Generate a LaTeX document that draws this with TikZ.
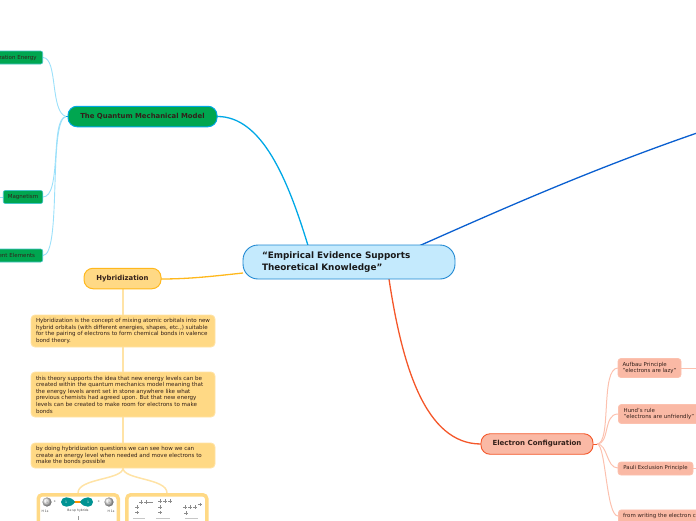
\documentclass[tikz,border=0pt]{standalone}
\usepackage{fontspec}
\setmainfont{DejaVu Sans}
\definecolor{txt}{HTML}{33201A}
\definecolor{mainfill}{HTML}{C4EAFD}
\definecolor{mainedge}{HTML}{1F88D2}
\definecolor{qmfill}{HTML}{00A650}
\definecolor{qmedge}{HTML}{00A8E6}
\definecolor{leafedge}{HTML}{45C4C8}
\definecolor{leafline}{HTML}{9BE0FA}
\definecolor{hyfill}{HTML}{FFD985}
\definecolor{hyedge}{HTML}{FFB81C}
\definecolor{hyline}{HTML}{FFE3A6}
\definecolor{ecfill}{HTML}{FAB9A5}
\definecolor{ecedge}{HTML}{F4572A}
\definecolor{ecline}{HTML}{FCC1AF}
\definecolor{bluelink}{HTML}{0A5FD0}
\tikzset{
  box/.style={draw,inner sep=0pt,font=\fontsize{5.5}{6.6}\selectfont,text=txt},
  mainbox/.style={box,fill=mainfill,draw=mainedge,line width=.9pt,rounded corners=15pt,font=\bfseries\fontsize{8.85}{12}\selectfont,text=black!90},
  qmbox/.style={box,fill=qmfill,draw=qmedge,line width=1pt,rounded corners=9pt,font=\bfseries\fontsize{6.9}{8}\selectfont},
  leafbox/.style={box,fill=qmfill,draw=leafedge,line width=.6pt,rounded corners=2pt,font=\fontsize{5.5}{6.6}\selectfont},
  hybox/.style={box,fill=hyfill,draw=hyedge,line width=1pt,rounded corners=9pt,font=\bfseries\fontsize{6.9}{8}\selectfont},
  notebox/.style={box,fill=hyfill,draw=hyline,line width=.9pt,rounded corners=4pt,align=left},
  ecbox/.style={box,fill=ecfill,draw=ecedge,line width=.9pt,rounded corners=9pt,font=\bfseries\fontsize{7}{8}\selectfont},
  leafec/.style={box,fill=ecfill,draw=ecline,line width=.8pt,rounded corners=3pt,align=left,font=\fontsize{5.35}{6.6}\selectfont},
  picframe/.style={draw=hyfill,fill=white,line width=3.5pt,rounded corners=4pt},
  linkq/.style={draw=leafline,line width=.9pt},
  linky/.style={draw=hyline,line width=1.5pt},
  linke/.style={draw=ecline,line width=1pt},
  tiny/.style={inner sep=0pt,font=\fontsize{3.1}{3.6}\selectfont,text=black!75},
  lvl/.style={draw=black!45,line width=.35pt},
  capline/.style={draw=black!22,line width=.9pt},
}
\begin{document}
\begin{tikzpicture}[x=1pt,y=-1pt]
\useasboundingbox (0,0) rectangle (696,520);
\clip (0,0) rectangle (696,520);
% named connector ends
\coordinate (qmin) at (308,245.5);
\coordinate (blue1) at (420,245.5);
\coordinate (blue2) at (697,133);
\coordinate (ecin) at (389,279);
\coordinate (hyin) at (243,273);
\coordinate (qmhub) at (66,116.5);
\coordinate (echub) at (597,444);
\coordinate (ion) at (43,57.5);
\coordinate (mag) at (43,197);
\coordinate (val) at (43,255.5);
\coordinate (magL) at (0,197);
\coordinate (auR) at (697,368);
\coordinate (paR) at (697,468);
\coordinate (fwL) at (618,516);
% connectors
\draw[qmedge,line width=1.3pt] (217,116.5) .. controls (262,116) and (288,180) .. (qmin);
\draw[bluelink,line width=1.3pt] (blue1) .. controls (500,210) and (590,170) .. (blue2);
\draw[ecedge,line width=1.3pt] (ecin) .. controls (402,365) and (425,444) .. (481,444);
\draw[hyedge,line width=1.3pt] (161,279) .. controls (190,279) and (215,276) .. (hyin);
\draw[linkq] (qmhub) .. controls (50,112) and (58,58) .. (ion);
\draw[linkq] (qmhub) .. controls (50,118) and (62,197) .. (mag);
\draw[linkq] (qmhub) .. controls (48,120) and (62,255) .. (val);
\draw[linkq] (magL) -- (3,197);
\draw[linky] (123,289) -- (123,315);
\draw[linky] (123,347) -- (123,372);
\draw[linky] (123,417) -- (123,443);
\draw[linky] (123,468) .. controls (123,480) and (78,478) .. (78,493);
\draw[linky] (123,468) .. controls (123,480) and (167,478) .. (167,493);
\draw[linke] (echub) .. controls (612,444) and (600,368) .. (618,368);
\draw[linke] (echub) .. controls (610,444) and (603,414) .. (618,414);
\draw[linke] (echub) .. controls (608,444) and (606,468) .. (618,468);
\draw[linke] (echub) .. controls (606,444) and (606,516) .. (fwL);
\draw[linke] (681,368) -- (auR);
\draw[linke] (693,468) -- (paR);
\draw[ecedge,line width=.9pt] (593,444) -- (echub);
\draw[qmedge,line width=.9pt] (68,116.5) -- (qmhub);
% main node
\node[mainbox,minimum width=212pt,minimum height=34pt] (main) at (349,262) {\hspace{-1pt}\parbox{173pt}{“Empirical Evidence Supports\\Theoretical Knowledge”}};
\node[qmbox,minimum width=149pt,minimum height=20.5pt] (qm) at (142.5,116.5) {The Quantum Mechanical Model};
\node[leafbox,minimum width=60pt,minimum height=13pt,anchor=east] (ionn) at (43,57.5) {Ionization Energy\hspace{4.5pt}};
\node[leafbox,minimum width=39.5pt,minimum height=13pt] (magn) at (23,197) {Magnetism};
\node[leafbox,minimum width=60pt,minimum height=13pt,anchor=east] (valn) at (43,255.5) {Valent Elements\hspace{4.5pt}};
\node[hybox,minimum width=77pt,minimum height=20.5pt] (hy) at (122.5,278.5) {Hybridization};
\node[notebox,minimum width=184pt,minimum height=32pt] (n1) at (123,331) {\parbox{174pt}{\fontsize{5.55}{6.6}\selectfont Hybridization is the concept of mixing atomic orbitals into new\\hybrid orbitals (with different energies, shapes, etc.,) suitable\\for the pairing of electrons to form chemical bonds in valence\\bond theory.}};
\node[notebox,minimum width=184pt,minimum height=45pt] (n2) at (123,394.5) {\parbox{174pt}{\fontsize{5.55}{6.6}\selectfont this theory supports the idea that new energy levels can be\\created within the quantum mechanics model meaning that\\the energy levels arent set in stone anywhere like what\\previous chemists had agreed upon. But that new energy\\levels can be created to make room for electrons to make\\bonds}};
\node[notebox,minimum width=184pt,minimum height=25pt] (n3) at (123,455.5) {\parbox{174pt}{\fontsize{5.55}{6.6}\selectfont by doing hybridization questions we can see how we can\\create an energy level when needed and move electrons to\\make the bonds possible}};
% picture frames
\node[picframe,minimum width=80pt,minimum height=40pt,anchor=north west,inner sep=0pt] (p1) at (36.5,493) {};
\node[picframe,minimum width=80pt,minimum height=40pt,anchor=north west,inner sep=0pt] (p2) at (125,493) {};
% left picture: orbitals
\shade[ball color=black!12] (47,502) circle (4.6);
\node[tiny,text=black!60] (a1) at (47,502) {1};
\node[tiny] (a2) at (55,502) {+};
\fill[orange!85!yellow] (72,500.7) rectangle (83,503.3);
\fill[teal!85!cyan] (61,502) .. controls (61,496) and (71,495.5) .. (75,502) .. controls (71,508.5) and (61,508) .. (61,502) -- cycle;
\fill[teal!85!cyan] (93,502) .. controls (93,496) and (84,495.5) .. (80,502) .. controls (84,508.5) and (93,508) .. (93,502) -- cycle;
\node[tiny,text=white] (a3) at (66,502) {1};
\node[tiny,text=white] (a4) at (88,502) {1};
\node[tiny] (a5) at (99,502) {+};
\shade[ball color=black!12] (109,502) circle (4.6);
\node[tiny,text=black!60] (a6) at (109,502) {1};
\node[tiny] (a7) at (45,511) {H 1s};
\node[tiny] (a8) at (78,511) {Be sp hybrids};
\node[tiny] (a9) at (111,511) {H 1s};
\draw[black!40,line width=.3pt] (78,516) -- (78,520);
% right picture: energy levels
\foreach \x/\y in {141/502,146/502,160/501,165/501,170/501,185/507,190/507,195/507,200/504.5,137/507,160/507,137/512.5,160/512.5,186/513}{
  \draw[lvl] (\x-1.6,\y) -- (\x+1.6,\y);
  \draw[lvl] (\x,\y-1.6) -- (\x,\y+1.6);
}
\draw[lvl] (148,502) -- (153,502);
\draw[capline] (133,518) -- (145,518);
\draw[capline] (156,518) -- (170,518);
\draw[capline] (185,518) -- (198,518);
% electron configuration
\node[ecbox,minimum width=112pt,minimum height=20.5pt] (ec) at (537,444) {Electron Configuration};
\node[leafec,minimum width=63pt,minimum height=19pt] (au) at (649.5,368) {\parbox{54pt}{\fontsize{5.45}{6.6}\selectfont Aufbau Principle\\"electrons are lazy"}};
\node[leafec,minimum width=82pt,minimum height=19pt,anchor=west] (hu) at (618,414) {\hspace{4.5pt}\parbox{76pt}{\fontsize{5.45}{6.6}\selectfont Hund's rule\\"electrons are unfriendly"}};
\node[leafec,minimum width=75pt,minimum height=13pt] (pa) at (655.5,468.5) {Pauli Exclusion Principle};
\node[leafec,minimum width=115pt,minimum height=24pt,anchor=north west] (fw) at (618,509.5) {\hspace{4.5pt}\parbox[t]{110pt}{\fontsize{5.45}{6.6}\selectfont\vspace{-9pt}from writing the electron configuration}};
\end{tikzpicture}
\end{document}
